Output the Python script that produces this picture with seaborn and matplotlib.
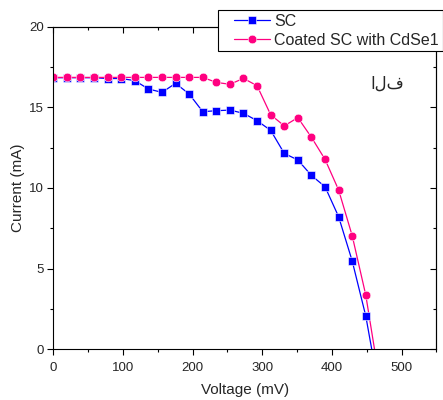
import pandas as pd
import matplotlib
matplotlib.use("Agg")
import matplotlib.pyplot as plt
import seaborn as sns
from matplotlib.lines import Line2D
from matplotlib.legend_handler import HandlerLine2D
from matplotlib.ticker import MultipleLocator

# I-V data
voltage = [0, 19.5, 39, 58.5, 78, 97.5, 117, 136.5, 156, 175.5, 195, 214.5,
           234, 253.5, 273, 292.5, 312, 331.5, 351, 370.5, 390, 409.5, 429, 448.5]
current_sc = [16.85, 16.85, 16.85, 16.85, 16.8, 16.8, 16.67, 16.15, 15.94, 16.5, 15.84, 14.74,
              14.8, 14.84, 14.64, 14.18, 13.58, 12.15, 11.74, 10.78, 10.08, 8.22, 5.47, 2.05]
current_coated = [16.87, 16.87, 16.87, 16.87, 16.87, 16.87, 16.87, 16.87, 16.87, 16.87, 16.87, 16.87,
                  16.56, 16.44, 16.81, 16.35, 14.55, 13.86, 14.37, 13.15, 11.78, 9.88, 7.04, 3.35]
voc_sc = 457
voc_coated = 461

series_names = ["SC", "Coated SC with CdSe1"]
colors = ["#0000ff", "#ff0080"]
x_ticks = [0, 100, 200, 300, 400, 500]
y_ticks = [0, 5, 10, 15, 20]
annotation = "الف"

sns.set_style("ticks")
plt.rcParams["font.family"] = ["Liberation Sans", "DejaVu Sans"]

n = len(voltage)
df = pd.DataFrame({
    "Voltage": voltage + voltage,
    "Current": current_sc + current_coated,
    "Sample": [series_names[0]] * n + [series_names[1]] * n,
})
# line continuation from the last measured point down to the x axis
tails = pd.DataFrame({
    "Voltage": [voltage[-1], voc_sc, voltage[-1], voc_coated],
    "Current": [current_sc[-1], 0, current_coated[-1], 0],
    "Sample": [series_names[0]] * 2 + [series_names[1]] * 2,
})

fig = plt.figure(figsize=(4.43, 4.0), dpi=100)
ax = fig.add_axes([0.1203, 0.1275, 0.8650, 0.805])

sns.lineplot(data=tails, x="Voltage", y="Current", hue="Sample", palette=colors,
             lw=0.9, legend=False, ax=ax, sort=False)
sns.lineplot(data=df, x="Voltage", y="Current", hue="Sample", style="Sample",
             markers=["s", "o"], dashes=False, palette=colors, markersize=6.2,
             markeredgewidth=0.4, lw=0.9, ax=ax)

ax.set_xlim(0, 550)
ax.set_ylim(0, 20)
ax.set_xticks(x_ticks)
ax.set_yticks(y_ticks)
ax.xaxis.set_minor_locator(MultipleLocator(50))
ax.yaxis.set_minor_locator(MultipleLocator(2.5))
ax.tick_params(which="both", direction="out", top=False, right=False,
               labelsize=9.5, width=0.8, color="black")
ax.tick_params(axis="x", which="major", pad=5.5)
ax.tick_params(axis="y", which="major", pad=2.5)
ax.tick_params(which="major", length=4)
ax.tick_params(which="minor", length=2.5)
for s in ax.spines.values():
    s.set_color("black")
    s.set_linewidth(0.8)

# inward ticks on top and right
secx = ax.secondary_xaxis("top")
secx.set_xticks(x_ticks)
secx.xaxis.set_minor_locator(MultipleLocator(50))
secx.tick_params(which="both", direction="in", labeltop=False, width=0.8, color="black")
secx.tick_params(which="major", length=4.3)
secx.tick_params(which="minor", length=2.2)
secy = ax.secondary_yaxis("right")
secy.set_yticks(y_ticks)
secy.yaxis.set_minor_locator(MultipleLocator(2.5))
secy.tick_params(which="both", direction="in", labelright=False, width=0.8, color="black")
secy.tick_params(which="major", length=4.3)
secy.tick_params(which="minor", length=2.2)

ax.set_xlabel("Voltage (mV)", fontsize=11, labelpad=6.5)
ax.set_ylabel("Current (mA)", fontsize=11, labelpad=3)

ax.text(479, 16.5, annotation, fontsize=12, ha="center", va="center",
        family=["DejaVu Sans"])

handles, labels = ax.get_legend_handles_labels()
leg = ax.legend(handles, labels, loc="upper right",
                bbox_to_anchor=(442.5 / 443, 390 / 400), bbox_transform=fig.transFigure,
                frameon=True, fancybox=False, edgecolor="black", framealpha=1,
                fontsize=11.5, borderpad=0.22, labelspacing=0.27, handlelength=3.0,
                handletextpad=0.3, borderaxespad=0,
                handler_map={Line2D: HandlerLine2D(xpad=0.8)})
leg.get_frame().set_linewidth(0.8)
leg.set_zorder(10)

fig.savefig("out.png", dpi=100)
